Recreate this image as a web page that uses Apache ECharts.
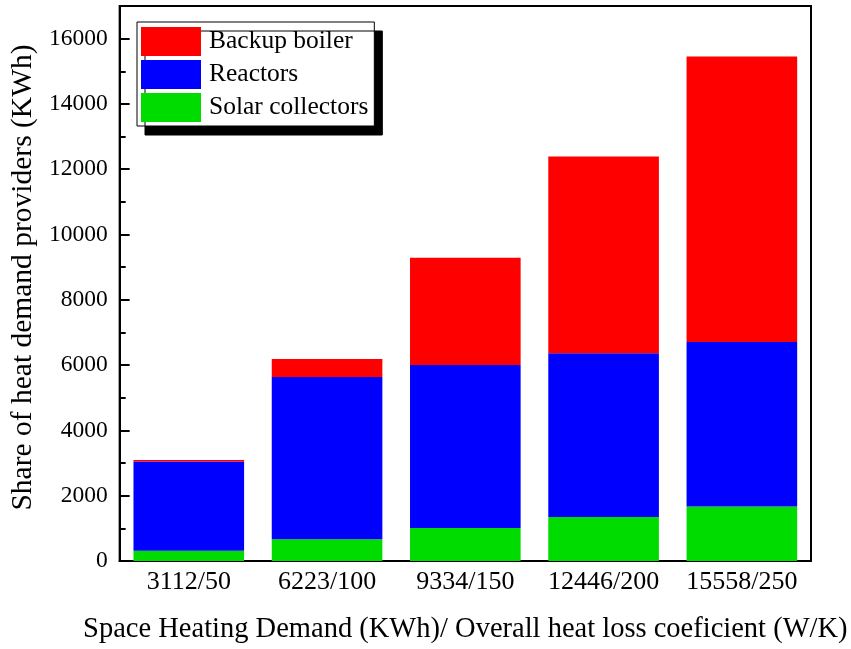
<!DOCTYPE html>
<html>
<head>
<meta charset="utf-8">
<script src="https://cdn.jsdelivr.net/npm/echarts@6/dist/echarts.min.js"></script>
<style>
html,body{margin:0;padding:0;background:#fff;}
#chart{width:851px;height:649px;}
</style>
</head>
<body>
<div id="chart"></div>
<script>
const categories = ['3112/50', '6223/100', '9334/150', '12446/200', '15558/250'];
const solarCollectors = [316, 663, 1009, 1346, 1673];
const reactors = [2734, 4975, 4996, 5017, 5036];
const backupBoiler = [40, 550, 3285, 6027, 8741];
const majorTicks = [0, 2000, 4000, 6000, 8000, 10000, 12000, 14000, 16000];
const minorTicks = [1000, 3000, 5000, 7000, 9000, 11000, 13000, 15000];

const FONT = 'Liberation Serif';
const chart = echarts.init(document.getElementById('chart'), null, {renderer: 'canvas'});
chart.setOption({
  animation: false,
  backgroundColor: '#fff',
  grid: {left: 119, right: 40, top: 6, bottom: 86, show: true, borderColor: '#000', borderWidth: 2, containLabel: false},
  legend: {
    data: ['Backup boiler', 'Reactors', 'Solar collectors'],
    orient: 'vertical', left: 137, top: 22,
    itemWidth: 60, itemHeight: 29, itemGap: 4, icon: 'rect',
    padding: [5, 6, 4, 4],
    backgroundColor: '#fff', borderColor: '#000', borderWidth: 1,
    shadowColor: '#000', shadowBlur: 0, shadowOffsetX: 8, shadowOffsetY: 9,
    textStyle: {fontFamily: FONT, fontSize: 25.5, color: '#000', padding: [0, 0, 0, 3]}
  },
  xAxis: {
    type: 'category', data: categories,
    axisLine: {lineStyle: {color: '#000', width: 2}},
    axisTick: {show: false},
    axisLabel: {fontFamily: FONT, fontSize: 26, color: '#000', margin: 8, interval: 0, hideOverlap: false},
    name: 'Space Heating Demand (KWh)/ Overall heat loss coeficient (W/K)',
    nameLocation: 'middle', nameGap: 54,
    nameTextStyle: {fontFamily: FONT, fontSize: 28.5, color: '#000'}
  },
  yAxis: [{
    type: 'value', min: 0, max: 17000, interval: 1000,
    axisLine: {show: true, lineStyle: {color: '#000', width: 2}},
    axisTick: {show: true, inside: true, length: 10, lineStyle: {color: '#000', width: 2}, customValues: majorTicks},
    axisLabel: {fontFamily: FONT, fontSize: 23.5, color: '#000', margin: 12, customValues: majorTicks, formatter: function (v) { return String(v); }},
    splitLine: {show: false},
    name: 'Share of heat demand providers (KWh)',
    nameLocation: 'middle', nameGap: 66,
    nameTextStyle: {fontFamily: FONT, fontSize: 29.5, color: '#000', padding: [0, 0, 0, 12]}
  }, {
    type: 'value', min: 0, max: 17000, interval: 1000, position: 'left',
    axisLine: {show: false},
    axisTick: {show: true, inside: true, length: 6, lineStyle: {color: '#000', width: 2}, customValues: minorTicks},
    axisLabel: {show: false},
    splitLine: {show: false}
  }],
  series: [
    {name: 'Solar collectors', type: 'bar', stack: 'total', data: solarCollectors, barWidth: '80%', itemStyle: {color: '#00dc00'}},
    {name: 'Reactors', type: 'bar', stack: 'total', data: reactors, itemStyle: {color: '#0000ff'}},
    {name: 'Backup boiler', type: 'bar', stack: 'total', data: backupBoiler, itemStyle: {color: '#ff0000'}}
  ]
});
</script>
</body>
</html>
